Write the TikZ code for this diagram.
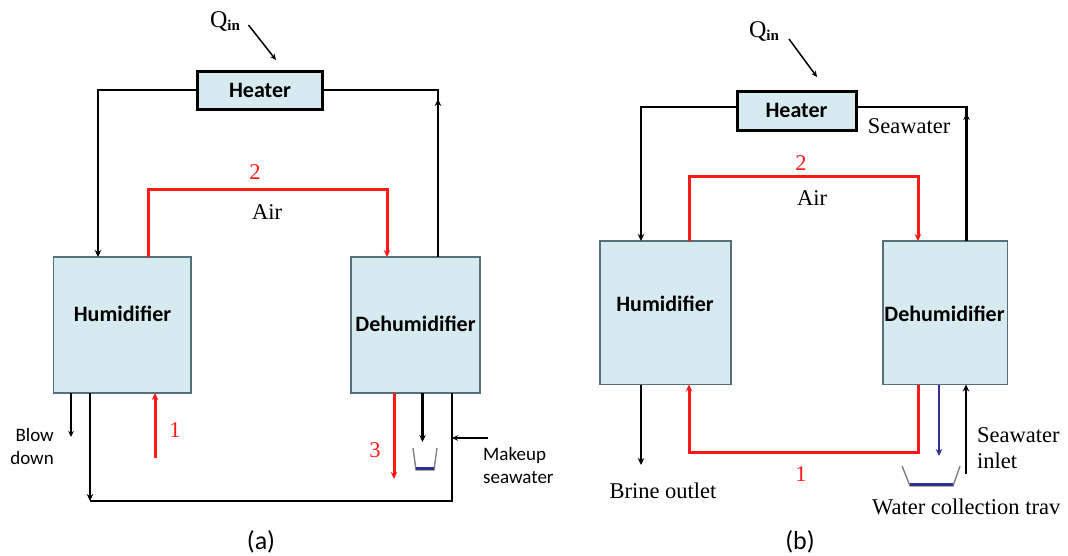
\documentclass[tikz,border=0pt]{standalone}
\usepackage{fontspec}
\setmainfont{Liberation Serif}
\newfontfamily\calibfont{Carlito}
\usetikzlibrary{arrows.meta,calc}
\definecolor{boxfill}{HTML}{D6EBF0}
\definecolor{boxline}{HTML}{55707A}
\definecolor{flowred}{HTML}{FF1A1A}
\definecolor{flowblue}{HTML}{2E3192}
\begin{document}
\begin{tikzpicture}[x=1pt,y=-1pt,
  unitbox/.style={draw=boxline,line width=1.3pt,fill=boxfill,inner sep=0pt,outer sep=0pt},
  heatbox/.style={draw=black,line width=3pt,fill=boxfill,inner sep=0pt,outer sep=0pt,
     font=\calibfont\bfseries\fontsize{22}{24}\selectfont},
  boxlabel/.style={font=\calibfont\bfseries\fontsize{22}{24}\selectfont,inner sep=0pt},
  sanslabel/.style={font=\calibfont\fontsize{19}{23}\selectfont,inner sep=0pt},
  seriflabel/.style={font=\fontsize{22.5}{26}\selectfont,inner sep=0pt},
  redlabel/.style={seriflabel,text=flowred},
  blk/.style={draw=black,line width=2.7pt},
  redflow/.style={draw=flowred,line width=3pt},
  blueflow/.style={draw=flowblue,line width=2.4pt},
  thinflow/.style={draw=black,line width=1.5pt},
  tip/.style={-{Stealth[length=7pt,width=6.5pt]}},
  smalltip/.style={-{Stealth[length=6pt,width=5.5pt]}},
  traywall/.style={draw=gray,line width=1.4pt},
  traywater/.style={draw=flowblue,line width=3.2pt}
]
\useasboundingbox (0,0) rectangle (1068,555);

% ================= (a) =================
\node[heatbox,minimum width=125pt,minimum height=38pt] (heaterA) at (260,90) {Heater};
\node[unitbox,minimum width=137.5pt,minimum height=136pt] (humA) at (122.25,325) {};
\node[unitbox,minimum width=129pt,minimum height=136pt] (dehA) at (415.5,325) {};
\node[boxlabel] (humAt) at (122.5,314) {Humidifier};
\node[boxlabel] (dehAt) at (415.5,324) {Dehumidifier};

\node[seriflabel] (qinA) at (225,21) {\fontsize{24}{26}\selectfont Q\raisebox{-3pt}{\fontsize{15}{15}\selectfont\bfseries in}};
\coordinate (qaS) at (248.5,25);
\coordinate (qaE) at (276,60);
\draw[thinflow,smalltip] (qaS) -- (qaE);

\coordinate (La) at (98,0);
\draw[blk,tip] (heaterA.west) -| (La |- humA.north);
\coordinate (RaT) at (438,99);
\draw[blk] (dehA.north -| RaT) -- (RaT) |- (heaterA.east);
\draw[blk,tip] (dehA.north -| RaT) -- (RaT);

\coordinate (A2l) at (148.5,189);
\coordinate (A2r) at (387,189);
\draw[redflow,tip] (humA.north -| A2l) -- (A2l) -- (A2r) -- (A2r |- dehA.north);
\node[redlabel] (twoA) at (255,172) {2};
\node[seriflabel] (airA) at (267,212) {Air};

\coordinate (BDa) at (71,437);
\draw[thinflow,smalltip] (humA.south -| BDa) -- (BDa);
\node[sanslabel,align=right,anchor=east] (blowA) at (54,446) {Blow\\down};

\coordinate (RCl) at (90,501);
\coordinate (RCr) at (452,501);
\draw[blk,tip] (humA.south -| RCl) -- (RCl);
\draw[blk] (RCl) -- (RCr) -- (RCr |- dehA.south);

\coordinate (A1) at (155,458);
\draw[redflow,tip] (A1) -- (A1 |- humA.south);
\node[redlabel] (oneA) at (175,430) {1};

\coordinate (A3) at (394,479);
\draw[redflow,tip] (dehA.south -| A3) -- (A3);
\node[redlabel] (threeA) at (375,450) {3};

\coordinate (CDa) at (422.5,442);
\draw[blk,tip] (dehA.south -| CDa) -- (CDa);
\draw[traywall] (413,448) -- (416,470) -- (434,470) -- (437,448);
\draw[traywater] (416,468.5) -- (434,468.5);

\coordinate (MUa) at (488,438);
\draw[thinflow,smalltip] (MUa) -- (RCr |- MUa);
\node[sanslabel,align=left,anchor=west] (makeA) at (483,465) {Makeup\\seawater};

\node[font=\calibfont\fontsize{26}{28}\selectfont,inner sep=0pt] (capA) at (261,542) {(a)};

% ================= (b) =================
\node[heatbox,minimum width=119pt,minimum height=39pt] (heaterB) at (796.5,110.5) {Heater};
\node[unitbox,minimum width=131pt,minimum height=143.5pt] (humB) at (665.5,312.75) {};
\node[unitbox,minimum width=124.5pt,minimum height=143.5pt] (dehB) at (945.25,312.75) {};
\node[boxlabel] (humBt) at (665,304) {Humidifier};
\node[boxlabel] (dehBt) at (944.5,314) {Dehumidifier};

\node[seriflabel] (qinB) at (764,31) {\fontsize{24}{26}\selectfont Q\raisebox{-3pt}{\fontsize{15}{15}\selectfont\bfseries in}};
\coordinate (qbS) at (789,39);
\coordinate (qbE) at (817,77);
\draw[thinflow,smalltip] (qbS) -- (qbE);

\coordinate (HBl) at (641,107);
\coordinate (HBr) at (966.5,107);
\draw[blk,tip] (heaterB.west |- HBl) -- (HBl) -- (HBl |- humB.north);
\coordinate (RbT) at (966.5,113);
\draw[blk] (dehB.north -| RbT) -- (HBr) -- (heaterB.east |- HBr);
\draw[blk,tip] (dehB.north -| RbT) -- (RbT);
\node[seriflabel] (seaB) at (909,126) {Seawater};

\coordinate (B2l) at (689,176);
\coordinate (B2r) at (918,176);
\draw[redflow,tip] (humB.north -| B2l) -- (B2l) -- (B2r) -- (B2r |- dehB.north);
\node[redlabel] (twoB) at (801,163) {2};
\node[seriflabel] (airB) at (812,198) {Air};

\coordinate (BRb) at (641,465);
\draw[blk,tip] (humB.south -| BRb) -- (BRb);
\node[seriflabel] (brineB) at (663,491) {Brine outlet};

\coordinate (B1r) at (918,452);
\coordinate (B1l) at (689,452);
\draw[redflow,tip] (dehB.south -| B1r) -- (B1r) -- (B1l) -- (B1l |- dehB.south);
\node[redlabel] (oneB) at (801,474) {1};

\coordinate (CDb) at (939,456);
\draw[blueflow,tip] (dehB.south -| CDb) -- (CDb);
\draw[traywall] (902,466) -- (910,486) -- (953,486) -- (960,466);
\draw[traywater] (910,484.5) -- (953,484.5);

\coordinate (SIb) at (966,474);
\draw[blk,tip] (SIb) -- (SIb |- dehB.south);
\node[seriflabel,align=left,anchor=west] (inletB) at (977,448) {Seawater\\inlet};

\node[seriflabel,anchor=west] (trayB) at (872,507) {Water collection trav};

\node[font=\calibfont\fontsize{26}{28}\selectfont,inner sep=0pt] (capB) at (800,542) {(b)};
\end{tikzpicture}
\end{document}
